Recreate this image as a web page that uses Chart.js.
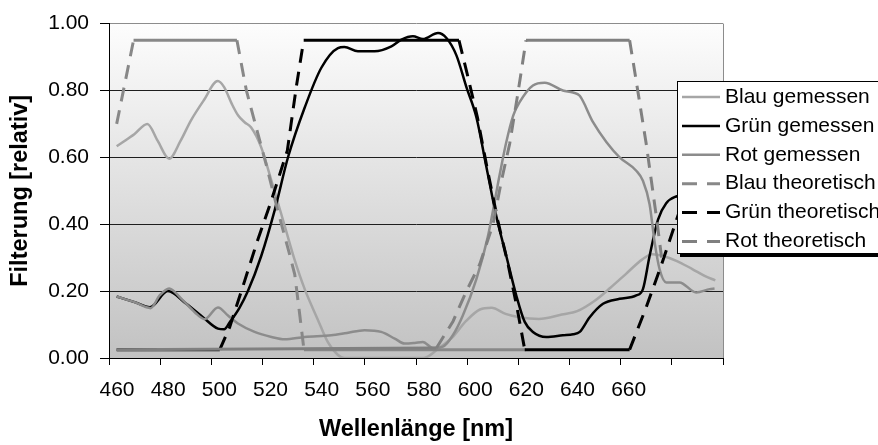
<!DOCTYPE html>
<html>
<head>
<meta charset="utf-8">
<script src="https://cdn.jsdelivr.net/npm/chart.js@4"></script>
<style>
  html, body { margin: 0; padding: 0; background: #fff; }
</style>
</head>
<body>
<canvas id="myChart" width="878" height="445"></canvas>
<script>
// axis ticks
var xTickMarks = [457, 477, 497, 517, 537, 557, 577, 597, 617, 637, 657, 677, 697];
var xTickLabels = ['460', '480', '500', '520', '540', '560', '580', '600', '620', '640', '660'];
var yTicks = [0, 0.2, 0.4, 0.6, 0.8, 1.0];

// measured transmission curves
var blauGemNm = [460, 467, 472, 476, 480.5, 485, 489, 494, 499.5, 502, 505, 507.5, 510, 512.5, 516.5, 520.5, 525.5, 529.5, 533.5, 538.5, 542.5, 546.5, 549, 565, 580, 586, 591, 596.5, 602, 606.5, 612, 617.5, 625, 634, 640, 647, 653, 659, 665.5, 669.5, 673.5, 679, 685, 690, 694];
var blauGemVal = [0.633, 0.67, 0.70, 0.65, 0.596, 0.65, 0.71, 0.77, 0.828, 0.81, 0.76, 0.725, 0.705, 0.69, 0.63, 0.53, 0.40, 0.295, 0.206, 0.117, 0.048, 0.009, 0.0, 0.0, 0.0, 0.03, 0.06, 0.11, 0.145, 0.15, 0.132, 0.122, 0.117, 0.13, 0.14, 0.172, 0.21, 0.251, 0.295, 0.31, 0.305, 0.29, 0.266, 0.245, 0.232];

var gruenGemNm = [460, 467, 473, 480, 487.2, 493.7, 499.6, 502, 504.2, 508, 511.3, 516.5, 521.8, 527, 533.5, 540, 546.5, 549, 554.3, 560.8, 567.4, 571.3, 575.8, 579.7, 585.6, 588.9, 592.8, 596.7, 600.6, 604.5, 608.4, 612.3, 616.2, 619.5, 622.7, 627.9, 634.4, 638.4, 641, 644.9, 650.1, 656.6, 663.1, 665.7, 668.3, 671.6, 674.8, 678.7, 685, 694];
var gruenGemVal = [0.184, 0.167, 0.152, 0.20, 0.162, 0.122, 0.088, 0.086, 0.107, 0.15, 0.20, 0.305, 0.443, 0.601, 0.749, 0.868, 0.927, 0.93, 0.917, 0.917, 0.932, 0.952, 0.962, 0.954, 0.972, 0.957, 0.905, 0.81, 0.72, 0.572, 0.424, 0.305, 0.187, 0.108, 0.078, 0.063, 0.068, 0.071, 0.078, 0.122, 0.162, 0.177, 0.187, 0.206, 0.305, 0.414, 0.463, 0.483, 0.49, 0.49];

var rotGemNm = [460, 467, 473.3, 476.8, 480.5, 485.3, 490.5, 494.4, 499.6, 503.5, 507.4, 513.9, 520.5, 525.7, 533.5, 543.9, 550, 556.9, 563.4, 568.7, 572.6, 576.5, 579.7, 583.6, 587.5, 591.4, 595.3, 600.6, 605, 609.7, 612.3, 615, 617.5, 622.7, 627.3, 634.4, 638.4, 641, 646.2, 651.4, 656.6, 663.1, 665.7, 668.3, 670.3, 672.2, 674.8, 680, 686.5, 691.8, 693.7];
var rotGemVal = [0.184, 0.167, 0.149, 0.187, 0.208, 0.177, 0.137, 0.116, 0.151, 0.127, 0.103, 0.078, 0.063, 0.056, 0.063, 0.068, 0.075, 0.083, 0.078, 0.058, 0.043, 0.045, 0.048, 0.03, 0.034, 0.068, 0.127, 0.236, 0.36, 0.548, 0.646, 0.725, 0.765, 0.815, 0.823, 0.80, 0.794, 0.784, 0.705, 0.646, 0.60, 0.56, 0.53, 0.46, 0.345, 0.266, 0.226, 0.226, 0.196, 0.206, 0.208];

// theoretical filter curves
var blauTheoNm = [460, 466.6, 507, 510.7, 513.3, 518.5, 523, 527.6, 529.6, 531.5, 533.2, 620];
var blauTheoVal = [0.70, 0.95, 0.95, 0.80, 0.725, 0.577, 0.44, 0.31, 0.25, 0.133, 0.025, 0.025];

var gruenTheoNm = [460, 500.3, 504.2, 510, 515, 520, 526.7, 530.2, 533.1, 593.8, 597, 601, 605, 609, 613, 616.5, 619.5, 660.5, 667, 673, 680];
var gruenTheoVal = [0.025, 0.025, 0.093, 0.23, 0.35, 0.46, 0.62, 0.81, 0.95, 0.95, 0.85, 0.72, 0.56, 0.41, 0.28, 0.15, 0.025, 0.025, 0.152, 0.28, 0.44];

var rotTheoNm = [460, 585, 591.5, 596.7, 601.9, 607.1, 610.4, 613.6, 617, 620, 660.5, 662, 664.5, 667, 669, 671, 673];
var rotTheoVal = [0.025, 0.03, 0.11, 0.20, 0.28, 0.40, 0.53, 0.64, 0.80, 0.95, 0.95, 0.88, 0.76, 0.64, 0.53, 0.42, 0.30];

var dashPattern = [14, 9];

function pts(nm, val) {
    return nm.map(function (x, i) { return {x: x, y: val[i]}; });
}

// flat parts of the theoretical curves come out solid, slopes dashed
var slopeDash = {
    borderDash: function (ctx) {
        return Math.abs(ctx.p1.parsed.y - ctx.p0.parsed.y) > 0.01 ? dashPattern : undefined;
    }
};

function measured(label, nm, val, color) {
    return {
        label: label, data: pts(nm, val), borderColor: color, backgroundColor: color,
        borderWidth: 2.5, cubicInterpolationMode: 'monotone', pointRadius: 0, fill: false
    };
}

function theoretical(label, nm, val, color) {
    return {
        label: label, data: pts(nm, val), borderColor: color, backgroundColor: color,
        borderWidth: 3, tension: 0, pointRadius: 0, fill: false,
        borderDash: [], segment: slopeDash
    };
}

var datasets = [
    measured('Blau gemessen', blauGemNm, blauGemVal, '#a6a6a6'),
    measured('Grün gemessen', gruenGemNm, gruenGemVal, '#000000'),
    measured('Rot gemessen', rotGemNm, rotGemVal, '#8c8c8c'),
    theoretical('Blau theoretisch', blauTheoNm, blauTheoVal, '#888888'),
    theoretical('Grün theoretisch', gruenTheoNm, gruenTheoVal, '#000000'),
    theoretical('Rot theoretisch', rotTheoNm, rotTheoVal, '#808080')
];
// later series are painted on top
datasets.forEach(function (ds, i) { ds.order = datasets.length - i; });

var fontFamily = "'Liberation Sans', Arial, sans-serif";
Chart.defaults.font.family = fontFamily;
Chart.defaults.color = '#000';

// grey gradient behind the plot
const plotBackground = {
    id: 'plotBackground',
    beforeDraw(chart) {
        const a = chart.chartArea;
        const ctx = chart.ctx;
        const g = ctx.createLinearGradient(0, a.top, 0, a.bottom);
        g.addColorStop(0, '#fdfdfd');
        g.addColorStop(1, '#c2c2c2');
        ctx.save();
        ctx.fillStyle = g;
        ctx.fillRect(a.left, a.top, a.right - a.left, a.bottom - a.top);
        ctx.restore();
    }
};

// legend box sitting over the right edge of the plot
const boxLegend = {
    id: 'boxLegend',
    afterDraw(chart) {
        const ctx = chart.ctx;
        const left = 677, top = 81, h = 172, w = 220;
        ctx.save();
        ctx.fillStyle = '#000';
        ctx.fillRect(left + 3, top + h, w, 4);
        ctx.fillStyle = '#fff';
        ctx.fillRect(left, top, w, h);
        ctx.strokeStyle = '#000';
        ctx.lineWidth = 1;
        ctx.strokeRect(left + 0.5, top + 0.5, w, h);
        ctx.font = '21px ' + fontFamily;
        ctx.textBaseline = 'middle';
        ctx.textAlign = 'left';
        chart.data.datasets.forEach(function (ds, i) {
            const y = top + 16 + i * 28.9;
            ctx.strokeStyle = ds.borderColor;
            ctx.lineWidth = ds.borderWidth;
            ctx.setLineDash(ds.segment ? [15, 10] : []);
            ctx.beginPath();
            ctx.moveTo(left + 5, y);
            ctx.lineTo(left + 43, y);
            ctx.stroke();
            ctx.setLineDash([]);
            ctx.fillStyle = '#000';
            ctx.fillText(ds.label, left + 48, y);
        });
        ctx.restore();
    }
};

const config = {
    type: 'line',
    data: { datasets: datasets },
    plugins: [plotBackground, boxLegend],
    options: {
        responsive: false,
        animation: false,
        devicePixelRatio: 1,
        layout: { padding: { left: 0, top: 20, right: 155, bottom: 0 } },
        plugins: {
            legend: { display: false },
            tooltip: { enabled: false }
        },
        scales: {
            x: {
                type: 'linear',
                min: 457,
                max: 697,
                afterBuildTicks: function (s) { s.ticks = xTickMarks.map(function (v) { return {value: v}; }); },
                afterFit: function (s) { s.height = 87; },
                ticks: {
                    autoSkip: false, maxRotation: 0, minRotation: 0,
                    padding: 13, labelOffset: 8,
                    font: { size: 21 },
                    callback: function (v, i) { return xTickLabels[i] || ''; }
                },
                grid: {
                    color: function (c) { return c.tick && c.tick.value === 697 ? '#8c8c8c' : 'rgba(0,0,0,0)'; },
                    tickColor: '#000',
                    tickLength: 7
                },
                border: { color: '#000' },
                title: {
                    display: true,
                    text: 'Wellenlänge [nm]',
                    font: { size: 23.5, weight: 'bold' },
                    padding: { top: 0, bottom: 1 }
                }
            },
            y: {
                min: 0,
                max: 1,
                afterBuildTicks: function (s) { s.ticks = yTicks.map(function (v) { return {value: v}; }); },
                afterFit: function (s) { s.width = 109; },
                ticks: {
                    padding: 11,
                    font: { size: 21 },
                    callback: function (v) { return v.toFixed(2); }
                },
                grid: {
                    color: function (c) { return c.tick && c.tick.value === 1 ? '#8c8c8c' : '#1e1e1e'; },
                    tickColor: '#000',
                    tickLength: 9
                },
                border: { color: '#000' },
                title: {
                    display: true,
                    text: 'Filterung [relativ]',
                    font: { size: 23.5, weight: 'bold' },
                    padding: { top: 6, bottom: 0 }
                }
            }
        }
    }
};

const myChart = new Chart(document.getElementById('myChart'), config);
</script>
</body>
</html>
